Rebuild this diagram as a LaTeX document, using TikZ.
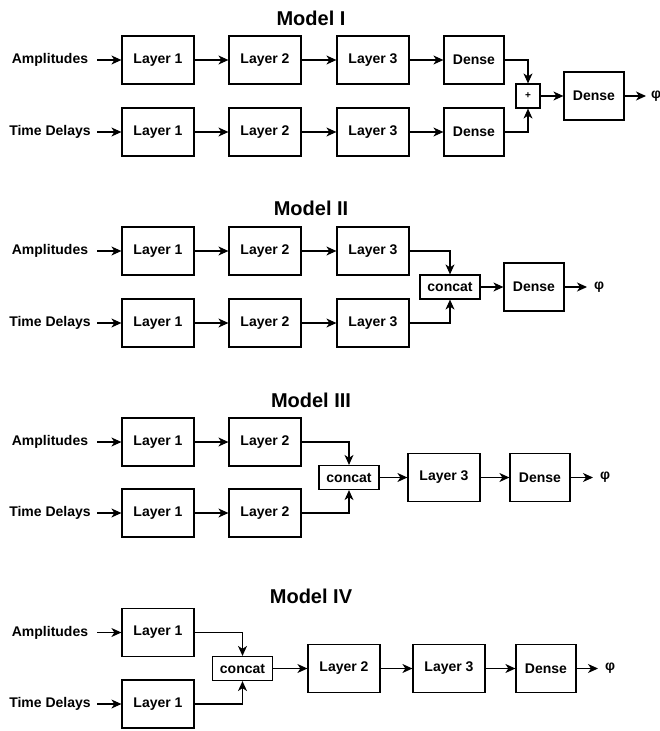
\documentclass[tikz,border=0pt]{standalone}
\usepackage{fontspec}
\setmainfont{Liberation Sans}
\usetikzlibrary{arrows.meta}
\begin{document}
\begin{tikzpicture}[x=1pt,y=-1pt,
  lay/.style={draw, line width=1.2pt, minimum width=72pt, minimum height=48pt, inner sep=0pt, font=\bfseries\fontsize{14}{16}\selectfont},
  den/.style={lay, minimum width=60pt},
  cat/.style={lay, minimum width=60pt, minimum height=24pt},
  plusbox/.style={lay, minimum width=24pt, minimum height=24pt, font=\bfseries\fontsize{10}{12}\selectfont},
  inp/.style={minimum width=94pt, inner sep=0pt, font=\bfseries\fontsize{14}{16}\selectfont},
  ttl/.style={font=\bfseries\fontsize{20}{24}\selectfont},
  outp/.style={anchor=west, inner ysep=0pt, inner xsep=7pt, font=\bfseries\fontsize{14}{16}\selectfont},
  arr/.style={-{Stealth[length=10pt,width=9pt,inset=3pt]}, line width=1.1pt}]
\fill[white] (0,0) rectangle (660,731);
\useasboundingbox (0,0) rectangle (660,731);

% ---------------- Model I ----------------
\node[ttl] (t1) at (311,18) {Model I};
\node[inp] (a1) at (50,60) {Amplitudes};
\node[inp] (b1) at (50,132) {Time Delays};
\node[lay] (a1l1) at (158,60) {Layer 1};
\node[lay] (a1l2) at (265,60) {Layer 2};
\node[lay] (a1l3) at (373,60) {Layer 3};
\node[den] (a1d)  at (474,60) {Dense};
\node[lay] (b1l1) at (158,132) {Layer 1};
\node[lay] (b1l2) at (265,132) {Layer 2};
\node[lay] (b1l3) at (373,132) {Layer 3};
\node[den] (b1d)  at (474,132) {Dense};
\node[plusbox] (p1) at (528,96) {+};
\node[den] (d1) at (594,96) {Dense};
\node[outp, inner xsep=5pt] (o1) at (646,96) {φ};
\draw[arr] (a1) -- (a1l1);
\draw[arr] (a1l1) -- (a1l2);
\draw[arr] (a1l2) -- (a1l3);
\draw[arr] (a1l3) -- (a1d);
\draw[arr] (b1) -- (b1l1);
\draw[arr] (b1l1) -- (b1l2);
\draw[arr] (b1l2) -- (b1l3);
\draw[arr] (b1l3) -- (b1d);
\draw[arr] (a1d.east) -| (p1.north);
\draw[arr] (b1d.east) -| (p1.south);
\draw[arr] (p1) -- (d1);
\draw[arr] (d1) -- (o1.west);

% ---------------- Model II ----------------
\node[ttl] (t2) at (311,208) {Model II};
\node[inp] (a2) at (50,251) {Amplitudes};
\node[inp] (b2) at (50,323) {Time Delays};
\node[lay] (a2l1) at (158,251) {Layer 1};
\node[lay] (a2l2) at (265,251) {Layer 2};
\node[lay] (a2l3) at (373,251) {Layer 3};
\node[lay] (b2l1) at (158,323) {Layer 1};
\node[lay] (b2l2) at (265,323) {Layer 2};
\node[lay] (b2l3) at (373,323) {Layer 3};
\node[cat] (c2) at (450,287) {concat};
\node[den] (d2) at (534,287) {Dense};
\node[outp] (o2) at (587,287) {φ};
\draw[arr] (a2) -- (a2l1);
\draw[arr] (a2l1) -- (a2l2);
\draw[arr] (a2l2) -- (a2l3);
\draw[arr] (b2) -- (b2l1);
\draw[arr] (b2l1) -- (b2l2);
\draw[arr] (b2l2) -- (b2l3);
\draw[arr] (a2l3.east) -| (c2.north);
\draw[arr] (b2l3.east) -| (c2.south);
\draw[arr] (c2) -- (d2);
\draw[arr] (d2) -- (o2.west);

% ---------------- Model III ----------------
\node[ttl] (t3) at (311,400) {Model III};
\node[inp] (a3) at (50,442) {Amplitudes};
\node[inp] (b3) at (50,513) {Time Delays};
\node[lay] (a3l1) at (158,442) {Layer 1};
\node[lay] (a3l2) at (265,442) {Layer 2};
\node[lay] (b3l1) at (158,513) {Layer 1};
\node[lay] (b3l2) at (265,513) {Layer 2};
\node[cat] (c3) at (349,477.5) {concat};
\node[lay] (l33) at (444,477.5) {Layer 3};
\node[den] (d3) at (540,477.5) {Dense};
\node[outp] (o3) at (593,477.5) {φ};
\draw[arr] (a3) -- (a3l1);
\draw[arr] (a3l1) -- (a3l2);
\draw[arr] (b3) -- (b3l1);
\draw[arr] (b3l1) -- (b3l2);
\draw[arr] (a3l2.east) -| (c3.north);
\draw[arr] (b3l2.east) -| (c3.south);
\draw[arr] (c3) -- (l33);
\draw[arr] (l33) -- (d3);
\draw[arr] (d3) -- (o3.west);

% ---------------- Model IV ----------------
\node[ttl] (t4) at (311,596) {Model IV};
\node[inp] (a4) at (50,632.5) {Amplitudes};
\node[inp] (b4) at (50,704) {Time Delays};
\node[lay] (a4l1) at (158,632.5) {Layer 1};
\node[lay] (b4l1) at (158,704) {Layer 1};
\node[cat] (c4) at (242.5,668.5) {concat};
\node[lay] (l42) at (344,668.5) {Layer 2};
\node[lay] (l43) at (449,668.5) {Layer 3};
\node[den] (d4) at (546,668.5) {Dense};
\node[outp] (o4) at (598,668.5) {φ};
\draw[arr] (a4) -- (a4l1);
\draw[arr] (b4) -- (b4l1);
\draw[arr] (a4l1.east) -| (c4.north);
\draw[arr] (b4l1.east) -| (c4.south);
\draw[arr] (c4) -- (l42);
\draw[arr] (l42) -- (l43);
\draw[arr] (l43) -- (d4);
\draw[arr] (d4) -- (o4.west);
\end{tikzpicture}
\end{document}
